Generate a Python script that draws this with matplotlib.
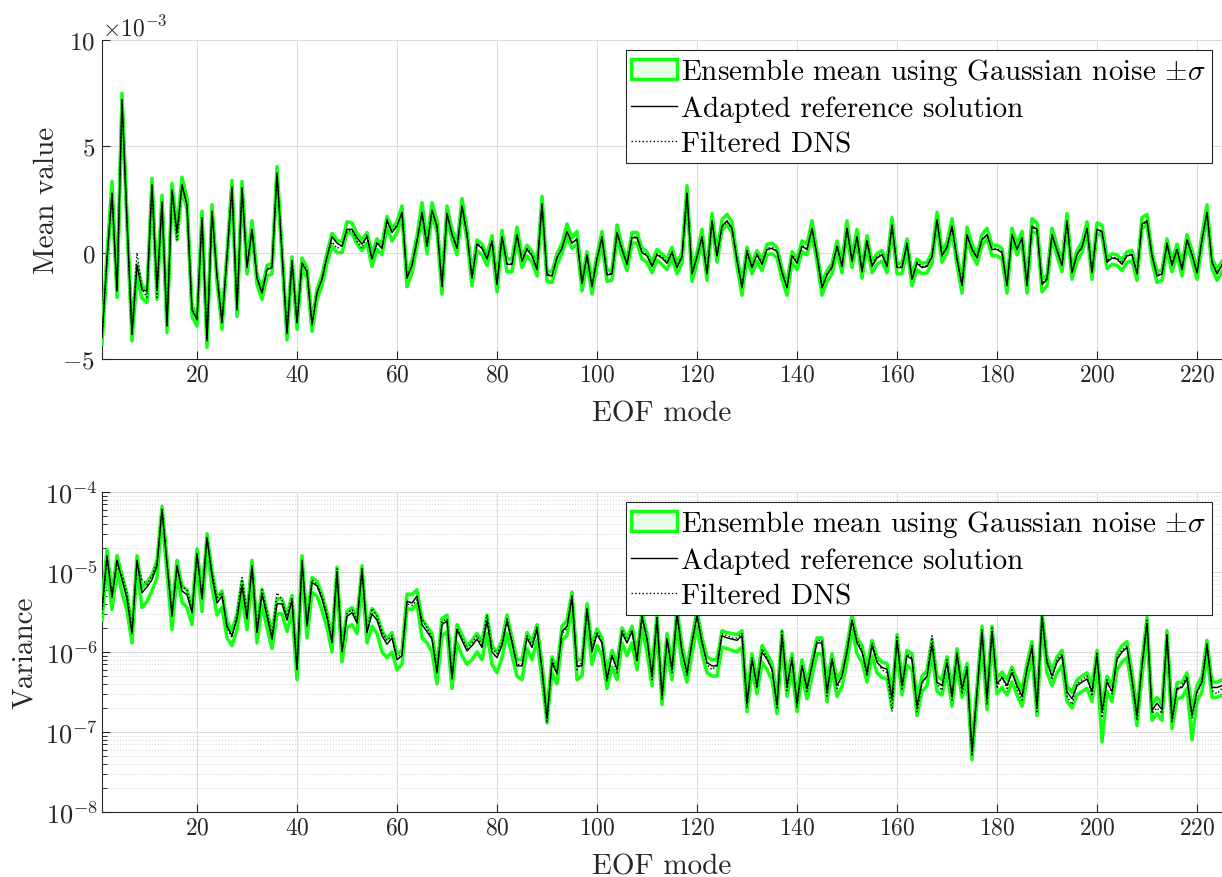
import numpy as np
import matplotlib
matplotlib.use('Agg')
import matplotlib.pyplot as plt
from matplotlib.patches import Patch
from matplotlib.lines import Line2D
from matplotlib.ticker import LogLocator, NullFormatter, FixedLocator

plt.rcParams.update({
    'font.family': 'cmr10',
    'mathtext.fontset': 'cm',
    'axes.formatter.use_mathtext': True,
    'axes.unicode_minus': True,
})

# ---------------- data: mean value (units of 1e-3) ----------------
mean_ref = [
    -4.0, -0.3, 2.8, -1.8, 7.2, 1.5, -3.85, -0.6, -1.75, -1.8, 3.2, -1.75, 2.4, -3.45, 2.95,
    0.95, 3.2, 2.25, -2.7, -3.15, 1.65, -4.15, 1.95, -1.1, -3.3, -0.2, 3.1, -2.7, 3.05, -0.7,
    1.1, -1.2, -1.9, -0.8, -0.7, 3.75, 0.0, -3.8, -0.4, -3.3, -0.5, -0.9, -3.4, -1.9, -1.25,
    -0.2, 0.75, 0.45, 0.3, 1.1, 1.1, 0.7, 0.4, 0.75, -0.3, 0.45, 0.2, 1.5, 0.95, 1.25,
    1.9, -1.2, -0.6, 0.55, 1.9, 0.3, 2.0, 1.25, -1.6, 1.85, 0.85, 0.2, 2.2, 0.85, -1.2,
    0.4, 0.2, -0.3, 0.55, -1.5, 0.75, -0.55, -0.55, 0.85, -0.4, 0.15, -0.15, -0.8, 2.3, -1.05,
    -1.1, -0.25, 0.2, 1.0, 0.45, 0.65, -1.45, -0.15, -1.6, -0.3, 0.7, -1.05, -1.0, 0.95, 0.15,
    -0.55, 0.7, 0.7, 0.0, -0.15, -0.65, -0.1, -0.25, -0.5, 0.0, -0.7, -0.2, 2.8, -1.0, -0.2,
    0.75, -1.0, 1.5, -0.15, 1.25, 1.5, 1.15, -0.35, -1.65, 0.05, -0.7, -0.1, -0.55, 0.15, 0.2,
    0.05, -0.95, -1.65, -0.15, -0.5, 0.3, 0.15, 1.15, -0.15, -1.65, -1.05, -0.7, 0.3, -0.65, 1.15,
    -0.4, 0.75, -0.9, 0.55, -0.65, -0.25, -0.1, -0.65, 1.3, -0.7, -0.7, 0.4, -1.25, -0.5, -0.7,
    -0.65, -0.2, 1.55, -0.15, 0.25, 1.25, -0.3, -1.55, 0.85, 0.15, -0.25, 0.6, 0.85, 0.15, 0.15,
    0.0, -1.55, 0.85, 0.15, 0.7, -1.55, 1.25, 1.1, -1.5, -1.25, 0.85, 0.1, -0.6, 1.5, -0.95,
    -0.1, 0.25, 1.15, -0.95, 1.1, 1.0, -0.45, -0.25, -0.3, -0.55, -0.15, -0.1, -1.0, 1.35, 1.5,
    -0.15, -1.1, -1.0, 0.4, -0.6, 0.15, -0.8, 0.6, -0.1, -0.95, 0.6, 1.9, -0.45, -1.0, -0.6,
]
mean_ens = [
    -4.05, -0.35, 3.0, -1.85, 7.2, 1.5, -3.9, -0.85, -1.85, -2.05, 3.25, -1.9, 2.45, -3.5, 3.0,
    0.9, 3.25, 2.3, -2.75, -3.2, 1.7, -4.2, 2.0, -1.15, -3.35, -0.2, 3.15, -2.75, 3.1, -0.75,
    1.2, -1.25, -1.95, -0.85, -0.75, 3.8, 0.0, -3.85, -0.45, -3.35, -0.5, -0.95, -3.45, -1.95, -1.3,
    -0.25, 0.6, 0.3, 0.25, 1.2, 1.15, 0.65, 0.35, 0.7, -0.35, 0.4, 0.15, 1.45, 0.85, 1.2,
    1.95, -1.3, -0.65, 0.55, 2.0, 0.25, 2.05, 1.25, -1.65, 1.9, 0.85, 0.15, 2.25, 0.85, -1.25,
    0.35, 0.15, -0.35, 0.55, -1.55, 0.8, -0.6, -0.6, 0.9, -0.45, 0.1, -0.2, -0.85, 2.35, -1.1,
    -1.15, -0.3, 0.2, 1.05, 0.45, 0.7, -1.5, -0.2, -1.65, -0.35, 0.7, -1.1, -1.05, 1.0, 0.1,
    -0.6, 0.7, 0.7, -0.05, -0.2, -0.7, -0.1, -0.3, -0.55, 0.0, -0.75, -0.25, 2.85, -1.05, -0.25,
    0.8, -1.05, 1.55, -0.2, 1.3, 1.55, 1.2, -0.4, -1.7, 0.0, -0.75, -0.15, -0.6, 0.15, 0.2,
    0.0, -1.0, -1.7, -0.2, -0.55, 0.3, 0.15, 1.2, -0.2, -1.7, -1.1, -0.75, 0.3, -0.7, 1.2,
    -0.45, 0.8, -0.95, 0.55, -0.7, -0.3, -0.15, -0.7, 1.35, -0.75, -0.75, 0.4, -1.3, -0.55, -0.75,
    -0.7, -0.25, 1.6, -0.2, 0.25, 1.3, -0.35, -1.6, 0.9, 0.15, -0.3, 0.6, 0.9, 0.1, 0.1,
    -0.05, -1.6, 0.9, 0.15, 0.75, -1.6, 1.3, 1.15, -1.55, -1.3, 0.9, 0.1, -0.65, 1.55, -1.0,
    -0.15, 0.25, 1.2, -1.0, 1.15, 1.05, -0.5, -0.3, -0.35, -0.6, -0.2, -0.15, -1.05, 1.4, 1.55,
    -0.2, -1.15, -1.05, 0.4, -0.65, 0.15, -0.85, 0.6, -0.15, -1.0, 0.6, 1.95, -0.5, -1.05, -0.65,
]
mean_sig = [
    0.25, 0.3, 0.35, 0.25, 0.3, 0.3, 0.25, 0.3, 0.3, 0.3, 0.25, 0.3, 0.25, 0.25, 0.25,
    0.3, 0.3, 0.25, 0.25, 0.25, 0.25, 0.25, 0.25, 0.25, 0.25, 0.25, 0.25, 0.25, 0.25, 0.25,
    0.3, 0.25, 0.25, 0.25, 0.25, 0.25, 0.25, 0.25, 0.25, 0.25, 0.25, 0.25, 0.25, 0.25, 0.25,
    0.25, 0.3, 0.3, 0.25, 0.25, 0.25, 0.25, 0.25, 0.25, 0.3, 0.25, 0.25, 0.25, 0.3, 0.25,
    0.25, 0.3, 0.3, 0.25, 0.35, 0.3, 0.3, 0.25, 0.3, 0.3, 0.25, 0.25, 0.3, 0.25, 0.3,
    0.25, 0.25, 0.25, 0.25, 0.3, 0.25, 0.3, 0.3, 0.3, 0.25, 0.25, 0.25, 0.25, 0.3, 0.25,
    0.25, 0.25, 0.25, 0.3, 0.25, 0.3, 0.3, 0.25, 0.3, 0.25, 0.3, 0.25, 0.25, 0.3, 0.25,
    0.25, 0.25, 0.25, 0.25, 0.25, 0.25, 0.25, 0.25, 0.25, 0.25, 0.25, 0.25, 0.3, 0.3, 0.25,
    0.3, 0.25, 0.3, 0.25, 0.25, 0.25, 0.25, 0.25, 0.3, 0.25, 0.25, 0.25, 0.25, 0.25, 0.25,
    0.25, 0.25, 0.3, 0.25, 0.25, 0.25, 0.25, 0.3, 0.25, 0.3, 0.25, 0.25, 0.25, 0.25, 0.3,
    0.25, 0.3, 0.25, 0.25, 0.25, 0.25, 0.25, 0.25, 0.3, 0.25, 0.25, 0.25, 0.25, 0.25, 0.25,
    0.25, 0.25, 0.3, 0.25, 0.25, 0.3, 0.25, 0.3, 0.3, 0.25, 0.25, 0.25, 0.25, 0.25, 0.25,
    0.25, 0.3, 0.25, 0.25, 0.25, 0.3, 0.3, 0.25, 0.3, 0.25, 0.25, 0.25, 0.25, 0.3, 0.25,
    0.25, 0.25, 0.25, 0.25, 0.25, 0.25, 0.25, 0.25, 0.25, 0.25, 0.25, 0.25, 0.25, 0.25, 0.25,
    0.25, 0.25, 0.25, 0.25, 0.25, 0.25, 0.25, 0.25, 0.25, 0.25, 0.25, 0.3, 0.25, 0.25, 0.25,
]
mean_dns = [
    -4.0, -0.3, 2.75, -1.8, 7.15, 1.5, -3.8, 0.0, -1.7, -2.1, 3.1, -2.1, 2.35, -3.4, 2.9,
    0.6, 3.15, 2.2, -2.65, -3.1, 1.6, -4.1, 1.9, -1.05, -3.25, -0.1, 3.05, -2.65, 3.0, -0.65,
    1.05, -1.15, -1.85, -0.75, -0.65, 3.7, 0.05, -3.75, -0.35, -3.25, -0.45, -0.85, -3.35, -1.85, -1.2,
    -0.15, 0.5, 0.2, 0.35, 1.0, 1.05, 0.55, 0.2, 0.85, -0.25, 0.5, 0.25, 1.55, 1.0, 1.3,
    1.85, -1.15, -0.55, 0.6, 1.85, 0.35, 1.95, 1.2, -1.55, 1.8, 0.9, 0.25, 2.15, 0.9, -1.15,
    0.45, 0.25, -0.25, 0.6, -1.45, 0.7, -0.5, -0.5, 0.8, -0.35, 0.2, -0.1, -0.75, 2.25, -1.0,
    -1.05, -0.2, 0.25, 0.95, 0.5, 0.6, -1.4, -0.1, -1.55, -0.25, 0.75, -1.0, -0.95, 0.9, 0.2,
    -0.5, 0.75, 0.75, 0.05, -0.1, -0.6, -0.05, -0.2, -0.45, 0.05, -0.65, -0.15, 2.75, -0.95, -0.15,
    0.7, -0.95, 1.45, -0.1, 1.2, 1.45, 1.1, -0.3, -1.6, 0.1, -0.65, -0.05, -0.5, 0.2, 0.25,
    0.1, -0.9, -1.6, -0.1, -0.45, 0.35, 0.2, 1.1, -0.1, -1.6, -1.0, -0.65, 0.35, -0.6, 1.1,
    -0.35, 0.7, -0.85, 0.6, -0.6, -0.2, -0.05, -0.6, 1.25, -0.65, -0.65, 0.45, -1.2, -0.45, -0.65,
    -0.6, -0.15, 1.5, -0.1, 0.3, 1.2, -0.25, -1.5, 0.8, 0.2, -0.2, 0.65, 0.8, 0.2, 0.2,
    0.05, -1.5, 0.8, 0.2, 0.65, -1.5, 1.2, 1.05, -1.45, -1.2, 0.8, 0.15, -0.55, 1.45, -0.9,
    -0.05, 0.3, 1.1, -0.9, 1.05, 0.95, -0.4, -0.2, -0.25, -0.5, -0.1, -0.05, -0.95, 1.3, 1.45,
    -0.1, -1.05, -0.95, 0.45, -0.55, 0.2, -0.75, 0.65, -0.05, -0.9, 0.65, 1.85, -0.4, -0.95, -0.55,
]

# ---------------- data: variance (units of 1e-6) ----------------
var_ref = [
    3.5, 16, 4.8, 14, 8, 4.6, 1.7, 14, 5.5, 6.5, 8, 12, 60, 13, 2.8,
    12, 5.8, 5.2, 3.1, 17, 4.6, 27, 9, 4.1, 5, 2.1, 1.6, 2.6, 6.7, 2.6,
    12, 1.75, 5.3, 2.8, 1.45, 4.0, 4.0, 2.5, 4.4, 0.6, 14, 2.1, 7.4, 6.7, 4.6,
    2.7, 1.3, 10, 1.0, 2.8, 3.1, 2.3, 10.5, 1.75, 3.0, 2.5, 1.6, 1.25, 1.5, 0.8,
    0.9, 4.3, 4.1, 5.0, 2.2, 1.8, 1.45, 0.55, 2.2, 2.45, 0.46, 1.9, 1.4, 1.03, 1.2,
    1.45, 1.14, 2.45, 1.0, 0.85, 1.2, 2.45, 1.3, 0.67, 0.67, 1.5, 1.14, 1.9, 0.61, 0.15,
    0.74, 0.53, 1.8, 2.1, 4.8, 0.67, 0.67, 3.4, 1.0, 1.66, 1.3, 0.46, 0.9, 0.61, 1.74,
    1.3, 1.8, 0.81, 2.7, 1.45, 0.5, 2.6, 0.28, 1.45, 0.61, 3.0, 1.0, 0.55, 1.3, 2.8,
    1.3, 0.74, 0.67, 0.67, 1.6, 1.5, 1.45, 1.4, 1.6, 0.23, 0.81, 0.38, 1.0, 0.81, 0.61,
    0.22, 1.6, 0.38, 0.81, 0.23, 0.67, 0.35, 0.67, 1.3, 1.3, 0.32, 0.81, 0.38, 0.5, 1.0,
    2.45, 1.3, 1.0, 0.55, 1.2, 0.74, 0.64, 0.61, 0.26, 1.4, 0.38, 0.9, 0.81, 0.21, 0.42,
    0.5, 1.25, 0.42, 0.38, 0.74, 0.28, 0.94, 0.35, 0.61, 0.056, 0.32, 1.8, 0.26, 1.8, 0.4,
    0.48, 0.38, 0.55, 0.38, 0.28, 0.61, 1.14, 0.21, 2.7, 0.74, 0.5, 0.74, 0.9, 0.32, 0.26,
    0.38, 0.42, 0.46, 0.32, 0.9, 0.18, 0.42, 0.32, 0.81, 1.0, 1.14, 0.46, 0.16, 0.67, 2.3,
    0.185, 0.23, 0.19, 1.6, 0.145, 0.35, 0.36, 0.46, 0.16, 0.32, 0.42, 1.2, 0.36, 0.36, 0.38,
]
var_ens_lo = [
    2.5, 12, 3.4, 10.5, 5.5, 3.3, 1.3, 11, 3.6, 4.3, 5.8, 8.5, 50, 9.5, 1.9,
    9.0, 4.2, 3.6, 2.2, 13, 3.2, 21, 6.5, 2.9, 3.6, 1.5, 1.2, 1.9, 5.0, 1.9,
    9.0, 1.3, 3.8, 2.0, 1.1, 3.0, 3.0, 1.8, 3.2, 0.45, 11, 1.5, 5.5, 5.0, 3.3,
    2.0, 1.0, 7.5, 0.75, 2.0, 2.2, 1.7, 8.0, 1.3, 2.1, 1.7, 1.0, 0.85, 1.0, 0.6,
    0.7, 3.5, 3.4, 4.0, 1.5, 1.3, 1.0, 0.4, 1.6, 1.8, 0.35, 1.3, 0.9, 0.7, 0.8,
    1.0, 0.8, 1.7, 0.7, 0.55, 0.85, 1.7, 0.9, 0.5, 0.45, 1.1, 0.8, 1.4, 0.45, 0.13,
    0.55, 0.4, 1.4, 1.6, 3.8, 0.45, 0.5, 2.6, 0.7, 1.2, 0.9, 0.35, 0.65, 0.45, 1.3,
    0.9, 1.3, 0.6, 2.0, 1.0, 0.38, 1.9, 0.22, 1.0, 0.45, 2.3, 0.7, 0.42, 0.95, 2.1,
    0.95, 0.55, 0.5, 0.5, 1.15, 1.1, 1.05, 1.0, 1.15, 0.18, 0.6, 0.3, 0.75, 0.6, 0.45,
    0.17, 1.2, 0.28, 0.6, 0.18, 0.5, 0.26, 0.5, 0.95, 0.95, 0.24, 0.6, 0.28, 0.37, 0.75,
    1.9, 0.95, 0.75, 0.42, 0.9, 0.55, 0.48, 0.46, 0.2, 1.05, 0.29, 0.68, 0.6, 0.16, 0.32,
    0.38, 0.95, 0.32, 0.29, 0.55, 0.21, 0.7, 0.27, 0.45, 0.045, 0.24, 1.35, 0.19, 1.35, 0.3,
    0.36, 0.29, 0.42, 0.29, 0.21, 0.46, 0.85, 0.16, 2.1, 0.55, 0.38, 0.55, 0.68, 0.24, 0.2,
    0.29, 0.32, 0.35, 0.24, 0.68, 0.075, 0.32, 0.24, 0.6, 0.75, 0.85, 0.35, 0.12, 0.5, 1.75,
    0.14, 0.17, 0.14, 1.2, 0.11, 0.26, 0.27, 0.35, 0.08, 0.24, 0.32, 0.9, 0.27, 0.27, 0.29,
]
var_ens_hi = [
    4.2, 19, 5.5, 16, 9.2, 5.3, 2.0, 16, 6.3, 7.5, 9.2, 14, 66, 15, 3.2,
    14, 6.7, 6.0, 3.6, 19.5, 5.3, 30, 10.3, 4.7, 5.8, 2.4, 1.85, 3.0, 7.7, 3.0,
    14, 2.0, 6.1, 3.2, 1.7, 4.6, 4.6, 2.9, 5.1, 0.7, 16, 2.4, 8.5, 7.7, 5.3,
    3.1, 1.5, 11.5, 1.15, 3.2, 3.6, 2.6, 12, 2.0, 3.5, 2.9, 1.85, 1.45, 1.75, 0.95,
    1.05, 5.3, 5.2, 6.0, 2.6, 2.1, 1.7, 0.65, 2.6, 2.9, 0.55, 2.2, 1.65, 1.2, 1.4,
    1.7, 1.35, 2.9, 1.2, 1.0, 1.4, 2.9, 1.5, 0.8, 0.8, 1.75, 1.35, 2.2, 0.72, 0.18,
    0.87, 0.62, 2.1, 2.5, 5.6, 0.8, 0.8, 4.0, 1.2, 1.95, 1.5, 0.54, 1.05, 0.72, 2.0,
    1.5, 2.1, 0.95, 3.1, 1.7, 0.6, 3.0, 0.33, 1.7, 0.72, 3.5, 1.2, 0.65, 1.5, 3.3,
    1.5, 0.87, 0.8, 0.8, 1.85, 1.75, 1.7, 1.65, 1.85, 0.27, 0.95, 0.45, 1.2, 0.95, 0.72,
    0.26, 1.85, 0.45, 0.95, 0.27, 0.8, 0.41, 0.8, 1.5, 1.5, 0.38, 0.95, 0.45, 0.59, 1.2,
    2.9, 1.5, 1.2, 0.65, 1.4, 0.87, 0.75, 0.72, 0.31, 1.65, 0.45, 1.05, 0.95, 0.25, 0.5,
    0.59, 1.45, 0.5, 0.45, 0.87, 0.33, 1.1, 0.41, 0.72, 0.066, 0.38, 2.1, 0.31, 2.1, 0.47,
    0.56, 0.45, 0.65, 0.45, 0.33, 0.72, 1.35, 0.25, 3.1, 0.87, 0.59, 0.87, 1.05, 0.38, 0.31,
    0.45, 0.5, 0.55, 0.38, 1.05, 0.21, 0.5, 0.38, 0.95, 1.2, 1.35, 0.55, 0.19, 0.8, 2.7,
    0.22, 0.27, 0.22, 1.85, 0.17, 0.41, 0.42, 0.55, 0.19, 0.38, 0.5, 1.4, 0.42, 0.42, 0.45,
]
var_dns = [
    3.0, 15, 5.5, 12, 9, 5.5, 1.9, 13, 8.0, 7, 9, 13, 62, 12, 3.2,
    11, 6.5, 6.0, 3.4, 16, 5.0, 26, 10, 4.8, 5.5, 2.0, 1.5, 3.0, 8.5, 3.0,
    11, 2.0, 6.0, 3.2, 1.6, 5.5, 4.5, 2.8, 4.8, 0.6, 13, 2.3, 8.0, 7.0, 5.0,
    3.0, 1.4, 11, 1.0, 3.0, 3.4, 2.5, 11, 1.8, 3.5, 2.8, 1.8, 1.4, 1.6, 0.85,
    0.95, 4.0, 3.8, 4.5, 2.6, 2.0, 1.5, 0.6, 2.4, 2.6, 0.5, 2.0, 1.5, 1.1, 1.3,
    1.6, 1.2, 2.9, 1.1, 0.95, 1.3, 2.6, 1.4, 0.7, 0.7, 1.6, 1.2, 2.1, 0.55, 0.13,
    0.8, 0.55, 1.7, 2.0, 5.2, 0.6, 0.75, 3.6, 1.1, 1.8, 1.3, 0.42, 0.95, 0.55, 1.9,
    1.35, 1.9, 0.75, 2.9, 1.5, 0.45, 2.8, 0.25, 1.5, 0.55, 3.2, 1.05, 0.5, 1.4, 3.0,
    1.4, 0.7, 0.6, 0.7, 1.7, 1.6, 1.5, 1.5, 1.7, 0.2, 0.85, 0.35, 1.1, 0.85, 0.6,
    0.2, 1.8, 0.33, 0.85, 0.2, 0.7, 0.32, 0.7, 1.4, 1.4, 0.28, 0.85, 0.35, 0.5, 1.1,
    2.6, 1.4, 1.05, 0.5, 1.3, 0.8, 0.6, 0.55, 0.18, 1.6, 0.33, 0.95, 0.85, 0.18, 0.4,
    0.5, 1.6, 0.4, 0.33, 0.8, 0.25, 1.0, 0.3, 0.65, 0.05, 0.3, 1.9, 0.22, 2.0, 0.35,
    0.5, 0.35, 0.6, 0.35, 0.25, 0.65, 1.2, 0.18, 3.0, 0.8, 0.45, 0.8, 0.95, 0.28, 0.22,
    0.4, 0.45, 0.5, 0.28, 1.0, 0.15, 0.45, 0.3, 0.85, 1.05, 1.2, 0.42, 0.14, 0.7, 2.5,
    0.17, 0.2, 0.17, 1.7, 0.13, 0.33, 0.38, 0.5, 0.15, 0.3, 0.45, 1.3, 0.33, 0.3, 0.35,
]

x_ticks = [20, 40, 60, 80, 100, 120, 140, 160, 180, 200, 220]
legend_labels = ['Ensemble mean using Gaussian noise $\\pm\\sigma$',
                 'Adapted reference solution', 'Filtered DNS']

# ---------------- styling ----------------
GREEN = '#14ff14'
FILL = '#e6ffe6'
AX = '#262626'
GRID = '#dcdcdc'

mode = np.arange(1, len(mean_ref) + 1)
W, H = 1222, 878
fig = plt.figure(figsize=(W / 100, H / 100), dpi=100)

def style_axes(ax, ylabsize, ypad):
    for s in ['top', 'right']:
        ax.spines[s].set_visible(False)
    for s in ['left', 'bottom']:
        ax.spines[s].set_color(AX)
        ax.spines[s].set_linewidth(0.8)
    ax.tick_params(which='major', direction='in', length=6, width=0.8, color=AX,
                   labelcolor=AX)
    ax.tick_params(axis='x', labelsize=17)
    ax.tick_params(axis='y', labelsize=ylabsize, pad=ypad)
    ax.tick_params(which='minor', direction='in', length=3.5, width=0.7, color=AX)
    ax.set_xlim(1, 225)
    ax.xaxis.set_major_locator(FixedLocator(x_ticks))
    ax.set_axisbelow(True)

def add_legend(ax):
    handles = [Patch(facecolor=FILL, edgecolor=GREEN, linewidth=2.5),
               Line2D([], [], color='black', lw=1.0),
               Line2D([], [], color='black', lw=1.0, ls=':')]
    leg = ax.legend(handles, legend_labels, loc='upper right', fontsize=21,
                    fancybox=False, framealpha=1, edgecolor=AX, borderpad=0.2,
                    labelspacing=0.3, handlelength=1.55, handletextpad=0.15,
                    borderaxespad=0.35)
    leg.get_frame().set_linewidth(0.8)

# ---------------- top: mean value ----------------
ax1 = fig.add_axes([102 / W, 1 - 360 / H, 1120 / W, 319 / H])
m_ens = np.array(mean_ens) * 1e-3
m_sig = np.array(mean_sig) * 1e-3
ax1.fill_between(mode, m_ens - m_sig, m_ens + m_sig, color=FILL, lw=0, zorder=2)
ax1.plot(mode, m_ens - m_sig, color=GREEN, lw=2.5, zorder=3)
ax1.plot(mode, m_ens + m_sig, color=GREEN, lw=2.5, zorder=3)
ax1.plot(mode, np.array(mean_ref) * 1e-3, color='black', lw=1.0, zorder=4)
ax1.plot(mode, np.array(mean_dns) * 1e-3, color='black', lw=1.0, ls=':', zorder=5)
style_axes(ax1, 18, 5)
ax1.set_ylim(-5e-3, 10e-3)
ax1.set_yticks([-5e-3, 0, 5e-3, 10e-3])
ax1.ticklabel_format(axis='y', style='sci', scilimits=(-3, -3), useMathText=True)
ax1.yaxis.get_offset_text().set_fontsize(17)
ax1.yaxis.get_offset_text().set_color(AX)
ax1.grid(True, which='major', color=GRID, lw=0.8)
ax1.set_ylabel('Mean value', fontsize=21, color=AX, labelpad=2)
ax1.set_xlabel('EOF mode', fontsize=21, color=AX, labelpad=10)
add_legend(ax1)

# ---------------- bottom: variance ----------------
ax2 = fig.add_axes([102 / W, 1 - 813 / H, 1120 / W, 320 / H])
v_lo = np.array(var_ens_lo) * 1e-6
v_hi = np.array(var_ens_hi) * 1e-6
ax2.fill_between(mode, v_lo, v_hi, color=FILL, lw=0, zorder=2)
ax2.plot(mode, v_lo, color=GREEN, lw=2.5, zorder=3)
ax2.plot(mode, v_hi, color=GREEN, lw=2.5, zorder=3)
ax2.plot(mode, np.array(var_ref) * 1e-6, color='black', lw=1.0, zorder=4)
ax2.plot(mode, np.array(var_dns) * 1e-6, color='black', lw=1.0, ls=':', zorder=5)
ax2.set_yscale('log')
style_axes(ax2, 19, 3)
ax2.set_ylim(1e-8, 1e-4)
ax2.yaxis.set_major_locator(LogLocator(base=10, numticks=10))
ax2.yaxis.set_minor_locator(LogLocator(base=10, subs=np.arange(2, 10), numticks=20))
ax2.yaxis.set_minor_formatter(NullFormatter())
ax2.grid(True, which='major', color=GRID, lw=0.8)
ax2.grid(True, which='minor', axis='y', color='#d0d0d0', lw=0.7, ls=(0, (1, 2)))
ax2.set_ylabel('Variance', fontsize=21, color=AX, labelpad=5)
ax2.set_xlabel('EOF mode', fontsize=21, color=AX, labelpad=10)
add_legend(ax2)

fig.savefig('out.png', dpi=100)
